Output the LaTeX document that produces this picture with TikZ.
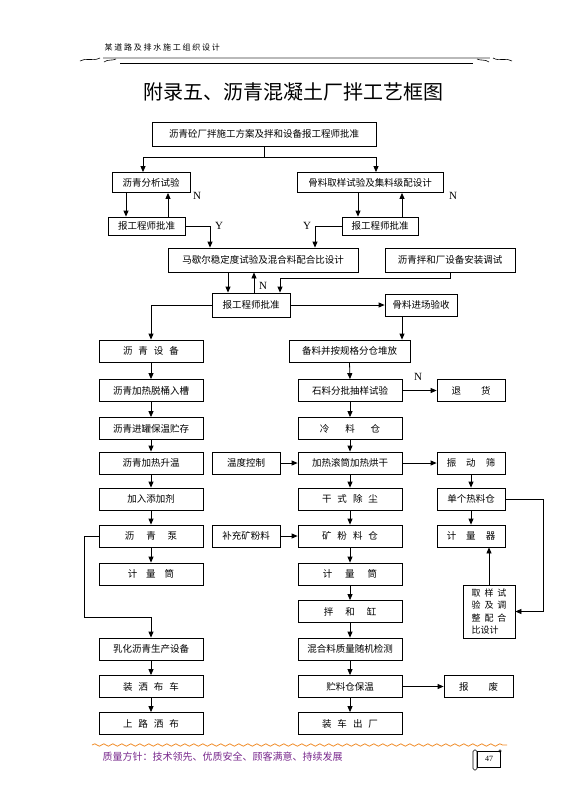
\documentclass[tikz,border=0pt]{standalone}
\usepackage{fontspec}
\setmainfont{Noto Sans CJK SC}
\newfontfamily\latinfont{Liberation Serif}
\newfontfamily\hdrfont[LetterSpace=22]{Noto Sans CJK SC}
\usetikzlibrary{arrows.meta,decorations.pathmorphing,calc}
\definecolor{motto}{RGB}{120,40,140}
\definecolor{wave}{RGB}{240,140,40}
\newcommand{\wsp}[1]{\hspace{#1pt}}

\begin{document}
\begin{tikzpicture}[x=1pt, y=-1pt,
  box/.style={
    draw, line width=0.8pt, minimum height=22pt, inner sep=1pt,
    align=center, font=\fontsize{9.5}{11}\selectfont
  },
  arr/.style={-{Triangle[length=6pt,width=5pt]}, line width=0.8pt},
  yn/.style={font=\latinfont\fontsize{11}{12}\selectfont}
]
\useasboundingbox (0,0) rectangle (572,809);

% ================= HEADER =================
\node[font=\hdrfont\fontsize{8}{9}\selectfont, anchor=west] (hdr) at (101,47) {某道路及排水施工组织设计};
\draw[gray!55, line width=2pt] (103,58) -- (490,58);
\draw[line width=0.6pt] (120,63) -- (473,63);
\draw[line width=0.6pt] (80,61) .. controls (86,57) and (92,62) .. (100,58);
\draw[line width=0.6pt] (104,62) .. controls (108,59) and (112,61) .. (116,59);
\draw[line width=0.6pt] (493,58) .. controls (500,62) and (506,57) .. (512,61);
\draw[line width=0.6pt] (477,59) .. controls (481,61) and (485,59) .. (489,62);
\node[font=\fontsize{20}{24}\selectfont] (title) at (293,92) {附录五、沥青混凝土厂拌工艺框图};

% ================= TOP =================
\node[box, minimum width=224pt, minimum height=24pt] (plan) at (264,134) {沥青砼厂拌施工方案及拌和设备报工程师批准};
\node[box, minimum width=78pt, minimum height=20pt] (bitest) at (151,182.5) {沥青分析试验};
\node[box, minimum width=146pt, minimum height=20pt] (aggtest) at (370,182.5) {骨料取样试验及集料级配设计};
\node[box, minimum width=77pt, minimum height=18pt] (okL) at (146.5,226) {报工程师批准};
\node[box, minimum width=76pt, minimum height=18pt] (okR) at (380,226) {报工程师批准};
\node[box, minimum width=190pt, minimum height=24pt] (marshall) at (263,260) {马歇尔稳定度试验及混合料配合比设计};
\node[box, minimum width=130pt, minimum height=24pt] (setup) at (450,260) {沥青拌和厂设备安装调试};
\node[box, minimum width=78pt, minimum height=24pt] (okM) at (251,305) {报工程师批准};
\node[box, minimum width=72pt, minimum height=22pt] (aggin) at (421,305) {骨料进场验收};

% guide columns
\coordinate (bdn) at (126,0);
\coordinate (bup) at (168,0);
\coordinate (adn) at (358,0);
\coordinate (aup) at (402,0);
\coordinate (mdn) at (228,0);
\coordinate (mup) at (254,0);
\coordinate (yL) at (210,0);
\coordinate (yR) at (315,0);
\coordinate (sj) at (280,278);
\coordinate (stockin) at (402,0);

\coordinate (split) at ($(plan.south)+(0,11)$);
\draw[line width=0.8pt] (plan.south) -- (split);
\draw[arr] (split) -| ([xshift=-8pt]bitest.north);
\draw[arr] (split) -| ([xshift=6pt]aggtest.north);

\draw[arr] (bitest.south -| bdn) -- (okL.north -| bdn);
\draw[arr] (okL.north -| bup) -- (bitest.south -| bup);
\draw[arr] (aggtest.south -| adn) -- (okR.north -| adn);
\draw[arr] (okR.north -| aup) -- (aggtest.south -| aup);
\node[yn] (nL) at (197,196) {N};
\node[yn] (nR) at (453,196) {N};

\draw[arr] (okL.east) -| (marshall.north -| yL);
\draw[arr] (okR.west) -| (marshall.north -| yR);
\node[yn] (yesL) at (219,226) {Y};
\node[yn] (yesR) at (307,226) {Y};

\draw[arr] (marshall.south -| mdn) -- (okM.north -| mdn);
\draw[arr] (okM.north -| mup) -- (marshall.south -| mup);
\node[yn] (nM) at (263,286) {N};
\draw[arr] (setup.south) |- (sj) -- (okM.north -| sj);
\draw[arr] (okM.east) -- (aggin.west);

% ================= LEFT (asphalt) =================
\node[box, minimum width=104pt] (equip) at (151,351) {沥\wsp{6}青\wsp{6}设\wsp{6}备};
\node[box, minimum width=104pt] (drum) at (151,390.5) {沥青加热脱桶入槽};
\node[box, minimum width=104pt] (tank) at (151,428.5) {沥青进罐保温贮存};
\node[box, minimum width=104pt] (heat) at (151,463) {沥青加热升温};
\node[box, minimum width=104pt] (additive) at (151,499) {加入添加剂};
\node[box, minimum width=104pt] (pump) at (151,536) {沥\wsp{12}青\wsp{12}泵};
\node[box, minimum width=104pt] (lmeter) at (151,574) {计\wsp{9}量\wsp{9}筒};
\node[box, minimum width=104pt] (emuls) at (151,649) {乳化沥青生产设备};
\node[box, minimum width=104pt] (truck) at (151,686.5) {装\wsp{6}洒\wsp{6}布\wsp{6}车};
\node[box, minimum width=104pt] (spray) at (151,723.5) {上\wsp{6}路\wsp{6}洒\wsp{6}布};

\draw[arr] (okM.west) -| (equip.north);
\coordinate (lc) at (84,617);
\draw[arr] (pump.west) -| (lc) -| (emuls.north);

% ================= MIDDLE (aggregate) =================
\node[box, minimum width=121pt] (stock) at (349.5,351) {备料并按规格分仓堆放};
\node[box, minimum width=104pt] (stone) at (350,390.5) {石料分批抽样试验};
\node[box, minimum width=104pt] (cold) at (350,428.5) {冷\wsp{16}料\wsp{16}仓};
\node[box, minimum width=104pt] (dryer) at (350,463) {加热滚筒加热烘干};
\node[box, minimum width=104pt] (dust) at (350,499) {干\wsp{6}式\wsp{6}除\wsp{6}尘};
\node[box, minimum width=104pt] (filler) at (350,536) {矿\wsp{6}粉\wsp{6}料\wsp{6}仓};
\node[box, minimum width=104pt] (mmeter) at (350,574) {计\wsp{13}量\wsp{13}筒};
\node[box, minimum width=104pt] (mixer) at (350,611.5) {拌\wsp{12}和\wsp{12}缸};
\node[box, minimum width=104pt] (qc) at (350,649) {混合料质量随机检测};
\node[box, minimum width=104pt] (silo) at (350,686.5) {贮料仓保温};
\node[box, minimum width=104pt] (load) at (350,723.5) {装\wsp{6}车\wsp{6}出\wsp{6}厂};

\node[box, minimum width=68pt] (temp) at (246,463) {温度控制};
\node[box, minimum width=68pt] (addfill) at (246,536) {补充矿粉料};

\draw[arr] (aggin.south -| stockin) -- (stock.north -| stockin);

% ================= RIGHT =================
\node[box, minimum width=68pt] (reject) at (471,390.5) {退\wsp{20}货};
\node[box, minimum width=68pt] (screen) at (471,463) {振\wsp{10}动\wsp{10}筛};
\node[box, minimum width=68pt] (bins) at (471,499) {单个热料仓};
\node[box, minimum width=68pt] (meter) at (471,536) {计\wsp{10}量\wsp{10}器};
\node[box, minimum width=69pt] (waste) at (478.5,686.5) {报\wsp{20}废};
\node[box, minimum width=52pt, minimum height=53pt, align=left,
      font=\fontsize{9}{12.5}\selectfont] (sample) at (489,611.5)
      {取\wsp{4}样\wsp{4}试\\验\wsp{4}及\wsp{4}调\\整\wsp{4}配\wsp{4}合\\比设计};

% ================= ARROWS =================
\foreach \a/\b in {equip/drum, drum/tank, tank/heat, heat/additive, additive/pump,
                   pump/lmeter, emuls/truck, truck/spray,
                   stock/stone, stone/cold, cold/dryer, dryer/dust, dust/filler,
                   filler/mmeter, mmeter/mixer, mixer/qc, qc/silo, silo/load,
                   screen/bins, bins/meter}
  \draw[arr] (\a.south) -- (\b.north);

\foreach \a/\b in {stone/reject, temp/dryer, dryer/screen, addfill/filler, silo/waste}
  \draw[arr] (\a.east) -- (\b.west);

\node[yn] (nS) at (418,377) {N};

\coordinate (rc) at (543,0);
\draw[arr] (bins.east) -| (sample.east -| rc) -- (sample.east);
\draw[arr] (sample.north) -- (sample.north |- meter.south);

% ================= FOOTER =================
\draw[wave, line width=0.8pt, decorate,
      decoration={snake, segment length=9pt, amplitude=1.2pt}] (92,745) -- (507,745);
\node[anchor=west, text=motto, font=\fontsize{10}{11}\selectfont] (motto) at (99,757)
  {质量方针：技术领先、优质安全、顾客满意、持续发展};
\draw[line width=0.6pt] (477,751) rectangle (500,767);
\draw[line width=0.6pt, rounded corners=1.5pt] (473,750) rectangle (477,770);
\draw[line width=0.6pt] (500,751) circle (1.2);
\node[font=\latinfont\fontsize{8}{9}\selectfont] (pg) at (489,759) {47};

\end{tikzpicture}
\end{document}
